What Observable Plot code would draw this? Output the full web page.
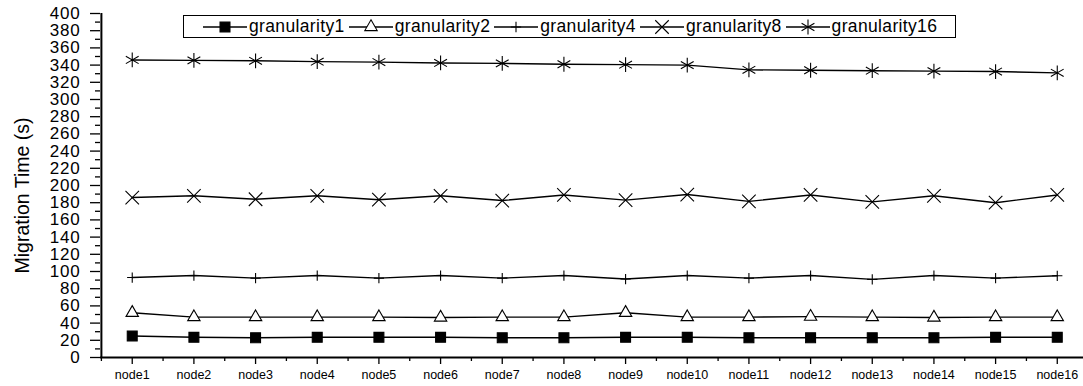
<!DOCTYPE html>
<html><head><meta charset="utf-8">
<script src="https://cdn.jsdelivr.net/npm/d3@7"></script>
<script src="https://cdn.jsdelivr.net/npm/@observablehq/plot@0.6"></script>
<style>
html,body{margin:0;padding:0;background:#fff;overflow:hidden;}
#wrap{position:relative;width:1083px;height:386px;font-family:"Liberation Sans",Arial,sans-serif;}
#legend{position:absolute;left:183px;top:15px;width:771px;height:21px;border:1px solid #000;background:#fff;display:flex;align-items:center;font-size:17.5px;letter-spacing:0.35px;color:#000;box-sizing:content-box;}
#legend .it{display:flex;align-items:center;}
#legend svg{display:block;}
.yt text{letter-spacing:0.8px;}
</style>
</head><body>
<div id="wrap"></div>
<script>
const nodes = ["node1","node2","node3","node4","node5","node6","node7","node8","node9","node10","node11","node12","node13","node14","node15","node16"];
const granularity1 = [25,23.5,23,23.5,23.5,23.5,23,23,23.5,23.5,23,23,23,23,23.5,23.5];
const granularity2 = [52,47,47,47,47,46.5,47,47,52,47,47,47.5,47,46.5,47,47];
const granularity4 = [93,95.3,92.3,95.3,92.3,95.3,92.3,95.3,91.2,95.3,92.3,95.3,90.8,95.3,92.3,95];
const granularity8 = [186,188,184,188,183.5,188,182.5,189,183,189.5,181.5,189,181,188,180,189];
const granularity16 = [346,345.5,345,344,343.5,342.5,342,341,340.5,340,334.5,334,333.5,333,332.5,331];
const seriesNames = ["granularity1","granularity2","granularity4","granularity8","granularity16"];
const seriesValues = [granularity1,granularity2,granularity4,granularity8,granularity16];
const yTicks = d3.range(0, 401, 20);
const yMinor = d3.range(10, 400, 20);

const symbolStyle = {
  granularity1: {symbol:"square", r:5.6, fill:"#000"},
  granularity2: {symbol:"triangle", r:4.6, fill:"#fff"},
  granularity4: {symbol:"plus", r:3.4, fill:"none"},
  granularity8: {symbol:"times", r:6.2, fill:"none"},
  granularity16: {symbol:"asterisk", r:7, fill:"none"}
};

const data = [];
seriesNames.forEach((s, si) => nodes.forEach((n, i) => data.push({series:s, idx:i+1, node:n, value:seriesValues[si][i]})));

const marks = [];
for (const s of seriesNames) {
  const d = data.filter(e => e.series === s);
  marks.push(Plot.line(d, {x:"idx", y:"value", stroke:"#000", strokeWidth:1.4}));
}
for (const s of seriesNames) {
  const d = data.filter(e => e.series === s);
  const st = symbolStyle[s];
  marks.push(Plot.dot(d, {x:"idx", y:"value", symbol:st.symbol, r:st.r, fill:st.fill, stroke:"#000", strokeWidth:1.1}));
}

const plot = Plot.plot({
  width: 1083, height: 386,
  marginLeft: 100, marginTop: 13, marginBottom: 29, marginRight: 0,
  style: {fontFamily: '"Liberation Sans", Arial, sans-serif', color:"#000", background:"#fff"},
  x: {type:"linear", domain:[0.5, 16.5], range:[100.9, 1087.6]},
  y: {domain:[0, 400]},
  marks: [
    Plot.axisY({ticks: yTicks, tickSize: 10, tickPadding: 10, fontSize: 17, label: null, strokeWidth: 1.3, className: "yt"}),
    Plot.axisY({ticks: yMinor, tickSize: 5, text: null, label: null, strokeWidth: 1.3}),
    Plot.axisX({ticks: d3.range(1, 17), tickSize: 7, tickPadding: 6, fontSize: 12.5, label: null, strokeWidth: 1.3, tickFormat: i => nodes[i-1]}),
    Plot.axisX({ticks: d3.range(0.5, 17, 1), tickSize: 4, text: null, label: null, strokeWidth: 1.3}),
    Plot.ruleX([0.5], {stroke:"#000", strokeWidth: 2}),
    Plot.ruleY([0], {stroke:"#000", strokeWidth: 2}),
    Plot.text(["Migration Time (s)"], {frameAnchor:"left", textAnchor:"middle", dx:-78, dy:10, rotate:-90, fontSize:19.5, fill:"#000"}),
    ...marks
  ]
});
const wrap = document.getElementById("wrap");
wrap.appendChild(plot);

// legend
const leg = document.createElement("div");
leg.id = "legend";
const symPaths = {
  granularity1: {sym:d3.symbolSquare, r:5.6, fill:"#000"},
  granularity2: {sym:d3.symbolTriangle, r:4.6, fill:"#fff"},
  granularity4: {sym:d3.symbolPlus, r:3.4, fill:"none"},
  granularity8: {sym:d3.symbolTimes, r:6.2, fill:"none"},
  granularity16: {sym:d3.symbolAsterisk, r:7, fill:"none"}
};
seriesNames.forEach((s, i) => {
  const it = document.createElement("div");
  it.className = "it";
  it.style.marginLeft = i === 0 ? "19px" : "4px";
  const p = symPaths[s];
  const path = d3.symbol(p.sym, p.r * p.r * Math.PI)();
  it.innerHTML = `<svg width="44" height="20"><line x1="0" x2="44" y1="10" y2="10" stroke="#000" stroke-width="1.4"/><path d="${path}" transform="translate(22,10)" fill="${p.fill}" stroke="#000" stroke-width="1.1"/></svg><span style="margin-left:2px">${s}</span>`;
  leg.appendChild(it);
});
wrap.appendChild(leg);
</script>
</body></html>
